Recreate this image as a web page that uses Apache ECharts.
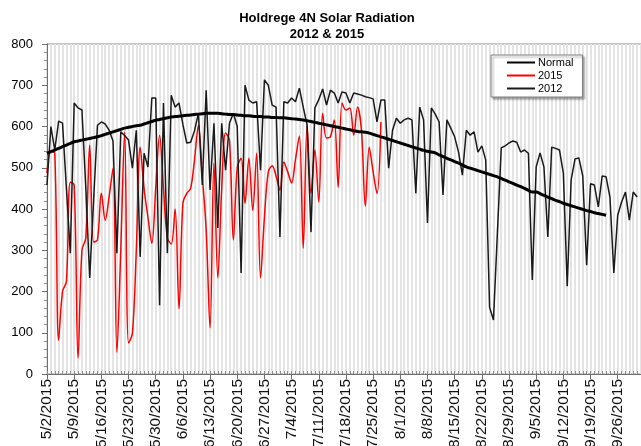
<!DOCTYPE html>
<html>
<head>
<meta charset="utf-8">
<script src="https://cdn.jsdelivr.net/npm/echarts@6/dist/echarts.min.js"></script>
<style>
html,body{margin:0;padding:0;background:#fff;}
#chart{width:641px;height:446px;}
</style>
</head>
<body>
<div id="chart"></div>
<script>
// Categories: daily dates 5/2/2015 .. 10/2/2015
const startMonth = 5, startDay = 2, dayCount = 154;
const categories = [];
(function(){
  const d = new Date(2015, startMonth - 1, startDay);
  for (let i = 0; i < dayCount; i++) {
    categories.push((d.getMonth() + 1) + '/' + d.getDate() + '/' + d.getFullYear());
    d.setDate(d.getDate() + 1);
  }
})();

const yTicks = [0, 100, 200, 300, 400, 500, 600, 700, 800];

const normal = [
535,539,543,547,551,555,559,
563,565,567,569,571,573,575,
578,581,584,587,590,593,596,
598,600,602,603,606,609,612,
615,617,619,621,623,624,625,
626,627,628,629,630,631,632,
632,632,632,631,630,629,629,
628,627,626,626,625,624,624,
623,623,622,622,621,621,620,
619,618,617,616,614,612,610,
608,606,604,602,600,598,596,
594,592,590,588,587,586,584,
581,578,575,572,569,566,563,
560,557,554,551,548,545,542,
540,538,536,531,527,523,519,
515,511,507,502,499,496,493,
490,487,484,481,478,474,470,
466,462,458,454,450,445,441,
441,437,433,429,425,421,418,
414,411,408,405,402,399,396,
394,391,389,387,385
];

const y2015 = [
487,540,535,82,200,225,465,458,39,300,
330,555,320,325,438,373,430,499,53,300,
587,75,99,300,550,450,380,317,450,579,
450,330,315,400,158,414,438,450,520,603,
480,350,112,511,233,450,584,567,325,500,
523,414,523,397,535,233,380,490,505,480,
446,514,490,463,520,577,305,603,438,543,
417,632,572,575,616,453,657,640,645,579,
647,590,407,550,490,438,611
];

const y2012 = [
458,600,543,613,608,450,293,657,645,640,
450,233,420,603,611,606,591,565,293,587,
578,567,499,591,284,535,502,669,669,167,
657,293,676,647,657,605,560,562,590,632,
458,688,446,608,354,608,494,608,632,600,
245,700,664,657,660,494,713,700,652,647,
332,660,657,669,660,693,647,603,344,645,
665,691,652,688,681,657,684,681,657,681,
679,676,672,670,667,611,664,664,499,591,
620,608,616,620,616,438,647,616,366,645,
630,611,434,616,596,575,538,482,591,579,
587,538,553,519,162,131,340,548,553,560,
565,562,538,543,535,228,502,536,502,332,
550,547,543,487,213,470,521,524,480,264,
461,458,405,480,478,429,245,385,417,441,
373,441,429
];

const chart = echarts.init(document.getElementById('chart'), null, {renderer: 'canvas'});
const font = 'Liberation Sans, Arial, sans-serif';

chart.setOption({
  animation: false,
  backgroundColor: '#ffffff',
  title: {
    text: 'Holdrege 4N Solar Radiation\n2012 & 2015',
    left: 322,
    textAlign: 'center',
    top: 5,
    textStyle: {fontFamily: font, fontSize: 13, fontWeight: 'bold', color: '#000', lineHeight: 16}
  },
  legend: {
    orient: 'vertical',
    left: 491,
    top: 55,
    data: [
      {name: 'Normal', icon: 'rect'},
      {name: '2015', icon: 'rect'},
      {name: '2012', icon: 'rect'}
    ],
    itemWidth: 28,
    itemHeight: 2,
    itemGap: 2,
    padding: [2, 9, 3, 16],
    backgroundColor: '#fff',
    borderColor: '#808080',
    borderWidth: 1,
    shadowColor: 'rgba(0,0,0,0.35)',
    shadowOffsetX: 2,
    shadowOffsetY: 2,
    shadowBlur: 2,
    textStyle: {fontFamily: font, fontSize: 11, color: '#000', padding: [0,0,0,-2]}
  },
  grid: {
    left: 47, right: 0, top: 44, bottom: 72,
    outerBoundsMode: 'none',
    containLabel: false,
    show: true, borderColor: '#8c8c8c', borderWidth: 1
  },
  xAxis: [{
    type: 'category',
    data: categories,
    boundaryGap: false,
    axisLine: {lineStyle: {color: '#6e6e6e', width: 1}},
    axisTick: {show: true, interval: 6, length: 5, lineStyle: {color: '#6e6e6e'}},
    axisLabel: {interval: 6, rotate: 90, fontFamily: font, fontSize: 15.5, color: '#111', margin: 5},
    splitLine: {show: true, interval: 0, lineStyle: {color: '#e4e4e4', width: 2}}
  }, {
    type: 'category',
    data: categories,
    boundaryGap: false,
    position: 'bottom',
    axisLine: {show: false},
    axisTick: {show: true, interval: 0, length: 3, inside: true, lineStyle: {color: '#8c8c8c'}},
    axisLabel: {show: false},
    splitLine: {show: false}
  }],
  yAxis: {
    type: 'value',
    min: yTicks[0],
    max: yTicks[yTicks.length - 1],
    interval: 100,
    axisLine: {show: true, lineStyle: {color: '#6e6e6e'}},
    axisTick: {show: true, length: 5, lineStyle: {color: '#6e6e6e'}},
    minorTick: {show: true, splitNumber: 5, length: 3, lineStyle: {color: '#8c8c8c'}},
    axisLabel: {fontFamily: font, fontSize: 13, color: '#000', margin: 14},
    splitLine: {show: false}
  },
  series: [
    {
      name: 'Normal', type: 'line', data: normal, smooth: true, showSymbol: false, z: 5,
      lineStyle: {color: '#000', width: 3}, itemStyle: {color: '#000'}
    },
    {
      name: '2015', type: 'line', data: y2015, smooth: 0.35, showSymbol: false, z: 3,
      lineStyle: {color: '#ff0000', width: 1.5}, itemStyle: {color: '#ff0000'}
    },
    {
      name: '2012', type: 'line', data: y2012, smooth: false, showSymbol: false, z: 4,
      lineStyle: {color: '#1a1a1a', width: 1.5}, itemStyle: {color: '#1a1a1a'}
    }
  ]
});
</script>
</body>
</html>
